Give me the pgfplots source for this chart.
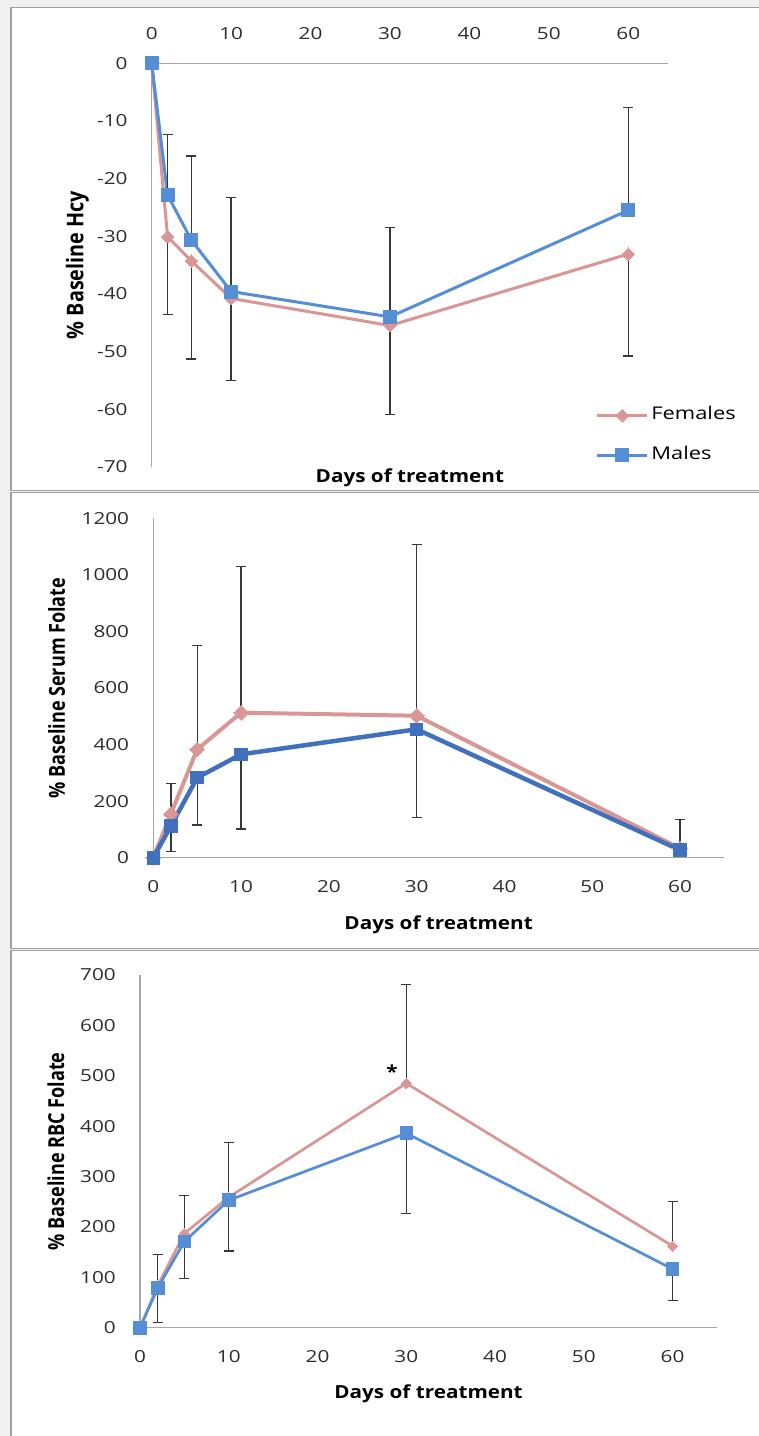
\documentclass[border=0pt]{standalone}
\usepackage{fontspec}
\setmainfont{Open Sans}[FakeStretch=1.25]
\newfontfamily\tickfont{Open Sans}[FakeStretch=1.25]
\newfontfamily\labfont{Open Sans}[FakeStretch=1.15]
\newfontfamily\ylabA{Open Sans}[FakeStretch=0.86]
\newfontfamily\ylabB{Open Sans}[FakeStretch=0.82]
\usepackage{pgfplots}
\pgfplotsset{compat=1.18}
\definecolor{pinkc}{RGB}{217,150,148}
\definecolor{bluec}{RGB}{85,142,213}
\definecolor{blued}{RGB}{65,113,190}
\definecolor{errc}{RGB}{55,55,55}
\definecolor{axc}{RGB}{166,166,166}
\definecolor{bgc}{RGB}{240,240,240}
\definecolor{framec}{RGB}{160,160,160}
\definecolor{tickc}{RGB}{45,45,45}
\tikzset{lab/.style={font=\labfont\fontsize{18}{18}\selectfont\bfseries, text=black, inner sep=0pt},
  ylA/.style={font=\ylabA\fontsize{23}{23}\selectfont\bfseries, text=black, inner sep=0pt, rotate=90, anchor=base},
  ylB/.style={font=\ylabB\fontsize{22}{22}\selectfont\bfseries, text=black, inner sep=0pt, rotate=90, anchor=base}}
\pgfplotsset{
  base/.style={scale only axis, clip=false, anchor=south west,
    xmin=0, xmax=65, xtick={0,10,...,60},
    major tick length=0pt, minor tick num=0,
    axis line style={draw=axc, line width=1.2pt},
    /pgf/number format/assume math mode=true,
    /pgf/number format/1000 sep={},
    ticklabel style={font=\tickfont\fontsize{16.6}{16.6}\selectfont, text=tickc, inner sep=0pt},
    yticklabel style={anchor=east, xshift=-24pt},
  },
  errb/.style={error bars/.cd, y dir=#1, y explicit,
    error bar style={line width=1.3pt, draw=errc, solid},
    error mark options={rotate=90, mark size=5pt, line width=1.3pt, draw=errc}},
}
\begin{document}
\begin{tikzpicture}
\fill[bgc] (0pt,0pt) rectangle (759pt,-1436pt);
\useasboundingbox (0pt,0pt) rectangle (759pt,-1436pt);
\filldraw[fill=white, draw=framec, line width=1.5pt] (11pt,-7.5pt) rectangle (800pt,-490.5pt);
\filldraw[fill=white, draw=framec, line width=1.5pt] (11pt,-492.5pt) rectangle (800pt,-948.5pt);
\filldraw[fill=white, draw=framec, line width=1.5pt] (11pt,-950.5pt) rectangle (800pt,-1470pt);

% ---------------- Panel 1: Hcy ----------------
\begin{axis}[base, at={(151.7pt,-466.7pt)}, width=516.3pt, height=403.4pt,
  ymin=-70, ymax=0, ytick={-70,-60,...,0},
  axis x line*=top, axis y line*=left,
  xticklabel style={anchor=center, yshift=30pt},
  legend style={at={(rel axis cs:0.86,0.1487)}, anchor=north west, draw=none, fill=none,
    inner sep=0pt, row sep=23pt, font=\fontsize{17.5}{17.5}\selectfont,
    nodes={inner xsep=2.5pt, inner ysep=0pt, text height=13pt, text depth=4pt}},
  legend cell align=left,
  legend image code/.code={\draw[mark repeat=2,mark phase=2,#1] plot coordinates {(0pt,0pt)(25pt,0pt)(50pt,0pt)};},
]
\addplot[color=pinkc, line width=3pt, mark=square*, mark size=4.4pt,
  mark options={solid, rotate=45, fill=pinkc, draw=pinkc, line width=0pt}, errb=minus]
  table[x index=0, y index=1, y error index=2] {
0 0 0
2 -30.1 13.5
5 -34.3 17.0
10 -40.8 14.3
30 -45.5 15.4
60 -33.1 17.7
};
\addlegendentry{Females}
\addplot[color=bluec, line width=3pt, mark=square*, mark size=6.5pt,
  mark options={solid, fill=bluec, draw=bluec, line width=0pt}, errb=plus]
  table[x index=0, y index=1, y error index=2] {
0 0 0
2 -22.85 10.45
5 -30.7 14.6
10 -39.6 16.3
30 -44.0 15.5
60 -25.5 17.8
};
\addlegendentry{Males}
\node[lab, anchor=base] at (rel axis cs:0.5,0) [yshift=-16pt] {Days of treatment};
\node[ylA] at (axis cs:-8.61,-35) {\% Baseline Hcy};
\end{axis}

% ---------------- Panel 2: Serum folate ----------------
\begin{axis}[base, at={(153.3pt,-857.7pt)}, width=570.7pt, height=339.4pt,
  ymin=0, ymax=1200, ytick={0,200,...,1200},
  axis x line*=bottom, axis y line*=left,
  xticklabel style={anchor=center, yshift=-29pt},
]
\addplot[color=pinkc, line width=4pt, mark=square*, mark size=5.2pt,
  mark options={solid, rotate=45, fill=pinkc, draw=pinkc, line width=0pt}, errb=plus]
  table[x index=0, y index=1, y error index=2] {
0 0 0
2 154.5 107
5 383 367
10 512.7 518
30 502 606
60 33 103
};
\addplot[color=blued, line width=4.5pt, mark=square*, mark size=6.3pt,
  mark options={solid, fill=blued, draw=blued, line width=0pt}, errb=minus]
  table[x index=0, y index=1, y error index=2] {
0 0 0
2 112 91
5 283 167
10 365.6 264
30 454 311
60 27 15
};
\node[lab, anchor=base] at (rel axis cs:0.5,0) [yshift=-71.6pt] {Days of treatment};
\node[ylB] at (axis cs:-10.06,600) {\% Baseline Serum Folate};
\end{axis}

% ---------------- Panel 3: RBC folate ----------------
\begin{axis}[base, at={(140pt,-1327.7pt)}, width=577pt, height=352.7pt,
  ymin=0, ymax=700, ytick={0,100,...,700},
  axis x line*=bottom, axis y line*=left,
  xticklabel style={anchor=center, yshift=-29pt},
]
\addplot[color=pinkc, line width=2.7pt, mark=square*, mark size=3.6pt,
  mark options={solid, rotate=45, fill=pinkc, draw=pinkc, line width=0pt}, errb=plus]
  table[x index=0, y index=1, y error index=2] {
0 0 0
2 84 62
5 187 76
10 259 109
30 485 196
60 162 88
};
\addplot[color=bluec, line width=2.7pt, mark=square*, mark size=6.3pt,
  mark options={solid, fill=bluec, draw=bluec, line width=0pt}, errb=minus]
  table[x index=0, y index=1, y error index=2] {
0 0 0
2 79 68
5 171 74
10 253 101
30 386 159
60 116.5 63
};
\node[lab, anchor=base] at (axis cs:28.4,495) {*};
\node[lab, anchor=base] at (rel axis cs:0.5,0) [yshift=-70.6pt] {Days of treatment};
\node[ylB] at (axis cs:-8.56,350) {\% Baseline RBC Folate};
\end{axis}
\end{tikzpicture}
\end{document}
